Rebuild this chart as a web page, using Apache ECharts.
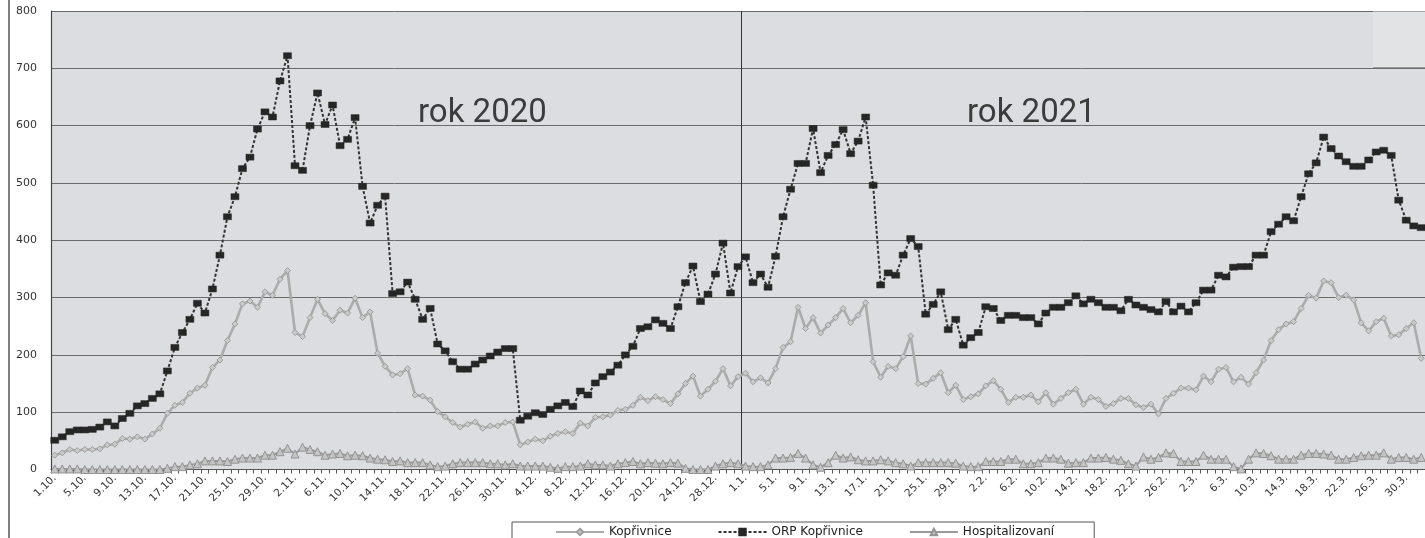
<!DOCTYPE html>
<html><head><meta charset="utf-8">
<script src="https://cdn.jsdelivr.net/npm/echarts@6/dist/echarts.min.js"></script>
<style>html,body{margin:0;padding:0;background:#fff;overflow:hidden}#c{width:1425px;height:538px}</style>
</head><body><div id="c"></div>
<script>
// month number and number of days shown (1.10.2020 .. 1.4.2021)
const monthDays = [[10,31],[11,30],[12,31],[1,31],[2,28],[3,31],[4,1]];
const categories = [];
monthDays.forEach(([m, n]) => { for (let d = 1; d <= n; d++) categories.push(d + '.' + m + '.'); });

const yTicks = [0,100,200,300,400,500,600,700,800];

const koprivnice = [
 25,29,35,33,35,35,36,43,44,54,53,57,53,62,72,98,
 112,117,133,142,147,178,191,225,254,289,294,283,310,304,332,347,
 239,232,265,297,272,260,278,273,299,265,275,203,180,165,167,176,
 130,128,121,101,92,82,74,79,83,72,76,76,82,83,43,48,
 53,50,58,63,66,63,81,76,91,92,95,103,105,112,126,120,
 127,122,115,132,150,163,128,140,154,176,146,162,168,153,160,151,
 176,213,223,283,246,265,238,252,265,281,256,269,291,188,161,180,
 176,197,233,150,149,159,169,134,147,122,127,132,146,155,140,117,
 126,126,130,118,134,114,124,134,140,114,126,122,110,115,124,124,
 113,108,114,97,124,133,142,142,139,163,153,175,178,153,161,149,
 169,191,225,244,254,258,281,304,299,329,326,300,304,296,256,242,
 258,264,233,235,246,256,194];

const orpKoprivnice = [
 51,57,66,69,69,70,74,83,76,89,98,111,115,124,132,172,
 213,239,262,290,273,315,374,441,476,525,545,594,624,615,678,722,
 530,522,600,657,602,636,565,576,614,494,430,461,477,307,310,327,
 297,262,281,219,207,188,175,175,184,191,198,205,211,211,86,93,
 99,96,105,111,117,110,137,130,151,162,170,182,200,215,246,249,
 261,255,246,284,326,355,293,306,341,395,308,354,371,326,341,318,
 372,441,489,534,534,595,518,548,567,593,551,573,615,496,322,343,
 339,374,403,389,271,288,310,244,262,217,230,239,284,281,260,269,
 269,265,265,254,273,283,283,291,303,289,297,291,283,283,277,297,
 287,283,279,275,293,275,285,275,291,313,313,339,336,353,354,354,
 374,374,415,428,441,434,476,516,535,580,560,547,537,529,529,540,
 554,557,548,470,435,425,422];

const hospitalizovani = [
 1,1,1,1,0,0,0,0,0,0,0,0,0,0,0,2,
 5,5,8,10,15,15,15,14,18,20,20,20,25,25,31,37,
 27,39,35,31,25,27,28,24,25,24,20,18,17,14,15,12,
 12,12,8,5,6,10,12,12,12,12,10,10,8,10,6,6,
 6,6,4,2,5,5,6,10,8,8,6,10,12,14,10,12,
 11,10,12,11,2,0,0,0,6,10,12,10,6,5,5,8,
 20,20,21,28,20,8,4,12,25,20,22,17,15,15,17,15,
 12,10,6,12,12,12,12,12,11,6,5,5,14,14,14,18,
 18,10,10,12,20,20,18,11,12,12,20,20,21,18,16,10,
 6,22,18,21,29,28,14,14,14,25,18,18,18,5,1,18,
 29,28,24,18,18,18,25,28,28,27,25,18,18,21,24,25,
 25,29,18,21,21,18,21];

const seriesNames = ['Kopřivnice','ORP Kopřivnice','Hospitalizovaní'];
const yearLabels = ['rok 2020','rok 2021'];
const yearBreak = categories.indexOf('1.1.');

const chart = echarts.init(document.getElementById('c'), null, {renderer:'canvas'});
const font = 'DejaVu Sans';
const baseGraphic = [
  {type:'line', shape:{x1:9, y1:0, x2:9, y2:538}, style:{stroke:'#555', lineWidth:1.5}, z:100},
  {type:'rect', shape:{x:1373, y:11.5, width:60, height:56}, style:{fill:'#e2e3e5'}, z:1},
  {type:'line', shape:{x1:1373, y1:67.5, x2:1425, y2:67.5}, style:{stroke:'#9a9a9a', lineWidth:1}, z:1},
  {type:'text', left:418, top:97, style:{text:yearLabels[0], font:'33px Roboto', fill:'#3c3c3c'}, z:100},
  {type:'text', left:967, top:97, style:{text:yearLabels[1], font:'33px Roboto', fill:'#3c3c3c'}, z:100}
];
chart.setOption({
  animation:false,
  backgroundColor:'#ffffff',
  grid:{left:51, top:11, width:1374, height:458.5, show:true, backgroundColor:'#dcdde0', borderWidth:0},
  legend:{
    data:seriesNames, left:512, top:522, orient:'horizontal',
    padding:[4,40,12,43], itemGap:46, itemWidth:48, itemHeight:8,
    borderColor:'#555', borderWidth:1, backgroundColor:'#fff',
    textStyle:{fontFamily:font, fontSize:12, color:'#222'}
  },
  xAxis:{
    type:'category', data:categories, boundaryGap:true,
    axisLine:{show:true, lineStyle:{color:'#555', width:1}},
    axisTick:{show:true, interval:0, length:4, inside:false, lineStyle:{color:'#555'}},
    axisLabel:{interval:3, rotate:45, margin:7, fontFamily:font, fontSize:10.5, color:'#333'},
    splitLine:{show:false}
  },
  yAxis:{
    type:'value', min:yTicks[0], max:yTicks[yTicks.length-1], interval:100,
    axisLine:{show:true, lineStyle:{color:'#444', width:1.2}},
    axisTick:{show:false},
    axisLabel:{margin:14, fontFamily:font, fontSize:11, color:'#333'},
    splitLine:{show:true, lineStyle:{color:'#6b6b6b', width:1}}
  },
  graphic:baseGraphic,
  series:[
    {name:seriesNames[0], type:'line', data:koprivnice, z:3,
     symbol:'diamond', symbolSize:6, showAllSymbol:true,
     lineStyle:{color:'#ababab', width:2.6},
     itemStyle:{color:'#cacaca', borderColor:'#9d9d9d', borderWidth:1}},
    {name:seriesNames[1], type:'line', data:orpKoprivnice, z:4,
     symbol:'rect', symbolSize:[8,6], showAllSymbol:true,
     lineStyle:{color:'#333', width:2, type:[3,2]},
     itemStyle:{color:'#262626', borderColor:'#262626', borderWidth:0.5}},
    {name:seriesNames[2], type:'line', data:hospitalizovani, z:2,
     symbol:'triangle', symbolSize:8, showAllSymbol:true,
     lineStyle:{color:'#9a9a9a', width:2},
     itemStyle:{color:'#c4c4c4', borderColor:'#939393', borderWidth:1}}
  ]
});
// separator between years, at the boundary between 31.12. and 1.1. (from the axis scale)
const xa = chart.convertToPixel({xAxisIndex:0}, yearBreak - 1);
const xb = chart.convertToPixel({xAxisIndex:0}, yearBreak);
const xSep = Math.round((xa + xb) / 2) - 0.5;
const yTop = chart.convertToPixel({yAxisIndex:0}, yTicks[yTicks.length-1]);
const yBot = chart.convertToPixel({yAxisIndex:0}, yTicks[0]);
chart.setOption({graphic: baseGraphic.concat([
  {type:'line', shape:{x1:xSep, y1:yTop, x2:xSep, y2:yBot}, style:{stroke:'#333', lineWidth:1}, z:1}
])});
</script></body></html>
